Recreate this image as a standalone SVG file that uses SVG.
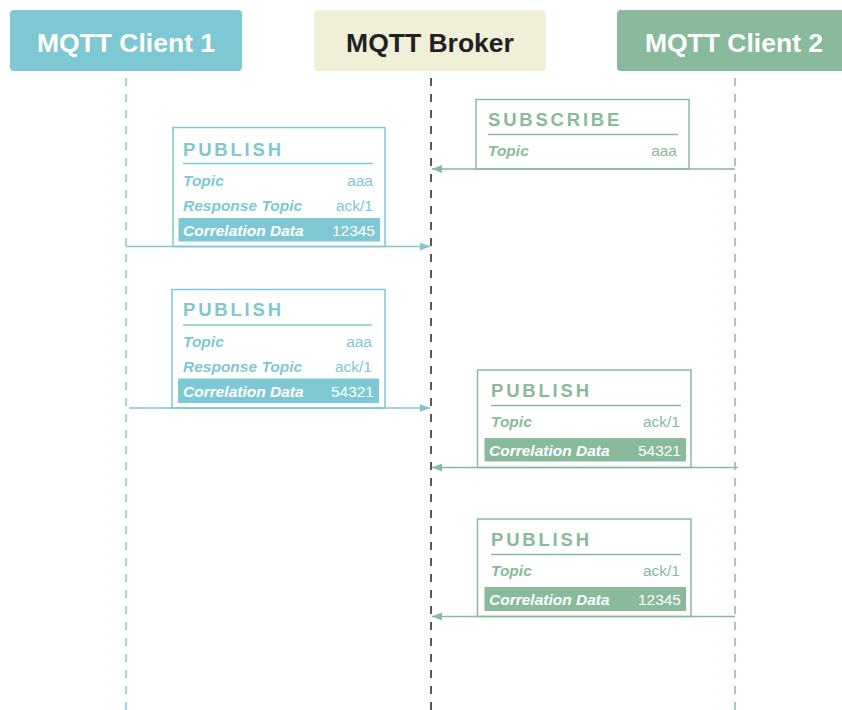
<svg xmlns="http://www.w3.org/2000/svg" width="842" height="710" viewBox="0 0 842 710">
  <defs>
    <style>
      .hdr { font-family: "Liberation Sans", Arial, sans-serif; font-weight: bold; font-size: 26.5px; text-anchor: middle; }
      .life { fill: none; stroke-width: 1.5; stroke-dasharray: 8 8; }
      .frame { fill: #ffffff; stroke-width: 1.5; }
      .title { font-family: "Liberation Sans", Arial, sans-serif; font-weight: bold; font-size: 18.5px; letter-spacing: 2.8px; }
      .key { font-family: "Liberation Sans", Arial, sans-serif; font-weight: bold; font-style: italic; font-size: 15.5px; }
      .val { font-family: "Liberation Sans", Arial, sans-serif; font-size: 15.5px; text-anchor: end; }
      .teal { fill: #7dc8d3; }
      .green { fill: #88ba9b; }
      .white { fill: #ffffff; }
      .msg { fill: none; stroke-width: 1.5; }
    </style>
    <marker id="arrowTeal" viewBox="0 0 10 8" refX="10" refY="4" markerWidth="10" markerHeight="8" markerUnits="userSpaceOnUse" orient="auto">
      <path d="M0,0 L10,4 L0,8 Z" fill="#7dc8d3"/>
    </marker>
    <marker id="arrowGreen" viewBox="0 0 10 8" refX="10" refY="4" markerWidth="10" markerHeight="8" markerUnits="userSpaceOnUse" orient="auto">
      <path d="M0,0 L10,4 L0,8 Z" fill="#88ba9b"/>
    </marker>
  </defs>

  <rect width="842" height="710" fill="#ffffff"/>

  <!-- participants -->
  <g id="client1">
    <rect x="10" y="10" width="232" height="61" rx="4" fill="#7dc8d3"/>
    <text class="hdr" x="126" y="52" fill="#ffffff">MQTT Client 1</text>
  </g>
  <g id="broker">
    <rect x="314" y="10" width="232" height="61" rx="4" fill="#f0f0d8"/>
    <text class="hdr" x="430" y="52" fill="#222222">MQTT Broker</text>
  </g>
  <g id="client2">
    <rect x="617" y="10" width="232" height="61" rx="4" fill="#88ba9b"/>
    <text class="hdr" x="734" y="52" fill="#ffffff">MQTT Client 2</text>
  </g>

  <!-- lifelines -->
  <g id="lifelines">
    <line class="life" x1="126" y1="78" x2="126" y2="710" stroke="#7dc8d3"/>
    <line class="life" x1="431" y1="78" x2="431" y2="710" stroke="#222222"/>
    <line class="life" x1="735" y1="78" x2="735" y2="710" stroke="#88ba9b"/>
  </g>

  <!-- SUBSCRIBE from client 2 -->
  <g id="subscribe">
    <rect class="frame" x="476" y="99.5" width="213" height="69.5" stroke="#88ba9b"/>
    <text class="title green" x="488" y="125.5">SUBSCRIBE</text>
    <line x1="488" y1="134.5" x2="678" y2="134.5" stroke="#88ba9b" stroke-width="1.5"/>
    <text class="key green" x="488" y="156">Topic</text>
    <text class="val green" x="677" y="156">aaa</text>
  </g>

  <!-- request PUBLISH 1 -->
  <g id="publish1">
    <rect class="frame" x="173" y="127.5" width="212" height="119" stroke="#7dc8d3"/>
    <text class="title teal" x="183" y="155.5">PUBLISH</text>
    <line x1="183" y1="163.5" x2="373" y2="163.5" stroke="#7dc8d3" stroke-width="1.5"/>
    <text class="key teal" x="183" y="186">Topic</text>
    <text class="val teal" x="373" y="186">aaa</text>
    <text class="key teal" x="183" y="211">Response Topic</text>
    <text class="val teal" x="373" y="211">ack/1</text>
    <rect x="178.5" y="218" width="201.5" height="23.5" fill="#7dc8d3"/>
    <text class="key white" x="183" y="236">Correlation Data</text>
    <text class="val white" x="375" y="236">12345</text>
  </g>

  <!-- request PUBLISH 2 -->
  <g id="publish2">
    <rect class="frame" x="172" y="289.5" width="213" height="118.5" stroke="#7dc8d3"/>
    <text class="title teal" x="183" y="316">PUBLISH</text>
    <line x1="183" y1="325" x2="372" y2="325" stroke="#7dc8d3" stroke-width="1.5"/>
    <text class="key teal" x="183" y="347">Topic</text>
    <text class="val teal" x="372" y="347">aaa</text>
    <text class="key teal" x="183" y="372">Response Topic</text>
    <text class="val teal" x="372" y="372">ack/1</text>
    <rect x="178" y="378.5" width="201" height="24.5" fill="#7dc8d3"/>
    <text class="key white" x="183" y="397">Correlation Data</text>
    <text class="val white" x="374" y="397">54321</text>
  </g>

  <!-- response PUBLISH 54321 -->
  <g id="publish3">
    <rect class="frame" x="477.5" y="370" width="213.5" height="97.5" stroke="#88ba9b"/>
    <text class="title green" x="491" y="396.5">PUBLISH</text>
    <line x1="491" y1="405.5" x2="681" y2="405.5" stroke="#88ba9b" stroke-width="1.5"/>
    <text class="key green" x="491" y="427">Topic</text>
    <text class="val green" x="680" y="427">ack/1</text>
    <rect x="484.5" y="438" width="201.5" height="23.5" fill="#88ba9b"/>
    <text class="key white" x="489" y="456">Correlation Data</text>
    <text class="val white" x="681" y="456">54321</text>
  </g>

  <!-- response PUBLISH 12345 -->
  <g id="publish4">
    <rect class="frame" x="477.5" y="519" width="213.5" height="97.5" stroke="#88ba9b"/>
    <text class="title green" x="491" y="545.5">PUBLISH</text>
    <line x1="491" y1="554.5" x2="681" y2="554.5" stroke="#88ba9b" stroke-width="1.5"/>
    <text class="key green" x="491" y="576">Topic</text>
    <text class="val green" x="680" y="576">ack/1</text>
    <rect x="484.5" y="587" width="201.5" height="24" fill="#88ba9b"/>
    <text class="key white" x="489" y="605">Correlation Data</text>
    <text class="val white" x="681" y="605">12345</text>
  </g>

  <!-- message arrows -->
  <g id="connectors">
    <line class="msg" x1="735" y1="169" x2="432" y2="169" stroke="#88ba9b" marker-end="url(#arrowGreen)"/>
    <line class="msg" x1="126" y1="246.5" x2="430" y2="246.5" stroke="#7dc8d3" marker-end="url(#arrowTeal)"/>
    <line class="msg" x1="129" y1="408" x2="430" y2="408" stroke="#7dc8d3" marker-end="url(#arrowTeal)"/>
    <line class="msg" x1="738" y1="467.5" x2="432" y2="467.5" stroke="#88ba9b" marker-end="url(#arrowGreen)"/>
    <line class="msg" x1="735" y1="616.5" x2="432" y2="616.5" stroke="#88ba9b" marker-end="url(#arrowGreen)"/>
  </g>
</svg>
